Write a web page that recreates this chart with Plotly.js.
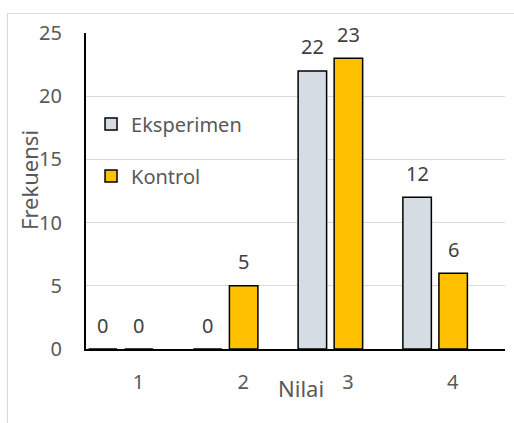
<!DOCTYPE html>
<html><head><meta charset="utf-8">
<script src="https://cdn.plot.ly/plotly-3.0.1.min.js"></script>
<style>
html,body{margin:0;padding:0;background:#fff;overflow:hidden;}
#frame{position:absolute;left:7px;top:13px;width:507px;height:410px;box-sizing:border-box;border-left:1px solid #d9d9d9;border-top:1px solid #d9d9d9;}
#chart{position:absolute;left:0;top:0;width:514px;height:423px;}
</style></head><body>
<div id="frame"></div><div id="chart"></div>
<script>
const categories = ['1', '2', '3', '4'];
const eksperimen = [0, 0, 22, 12];
const kontrol = [0, 5, 23, 6];
const seriesNames = ['Eksperimen', 'Kontrol'];
const yTicks = [0, 5, 10, 15, 20, 25];
const xTitle = 'Nilai';
const yTitle = 'Frekuensi';

const FONT = 'Noto Sans, Liberation Sans, sans-serif';
const barWidth = 0.272;
const barOffsets = [-0.475, -0.131];
const colors = ['#d6dce4', '#ffc000'];
const margin = {l: 86, r: 9, t: 33, b: 74};
const catPx = (514 - margin.l - margin.r) / categories.length;

const seriesValues = [eksperimen, kontrol];
const traces = seriesValues.map((vals, i) => ({
  type: 'bar',
  name: seriesNames[i],
  x: categories,
  y: vals,
  width: barWidth,
  offset: barOffsets[i],
  legendgroup: 'g' + i,
  marker: {color: colors[i], line: {color: '#000000', width: 1.5}},
  hoverinfo: 'x+y+name'
}));

const annotations = [];
seriesValues.forEach((vals, i) => {
  vals.forEach((v, j) => {
    annotations.push({
      x: j, y: v, xref: 'x', yref: 'y',
      text: String(v), showarrow: false,
      xanchor: 'center', yanchor: 'middle',
      xshift: (barOffsets[i] + barWidth / 2) * catPx,
      yshift: 24,
      font: {family: FONT, size: 20, color: '#404040'}
    });
  });
});
// axis titles placed as in the reference (Excel layout)
annotations.push({
  text: xTitle, xref: 'paper', yref: 'paper', x: 0.512, y: -0.123,
  xanchor: 'center', yanchor: 'middle', showarrow: false,
  font: {family: FONT, size: 22, color: '#595959'}
});
annotations.push({
  text: yTitle, xref: 'paper', yref: 'paper', x: -0.136, y: 0.535,
  xanchor: 'center', yanchor: 'middle', showarrow: false, textangle: -90,
  font: {family: FONT, size: 22, color: '#595959'}
});

const layout = {
  width: 514, height: 423,
  margin: margin,
  paper_bgcolor: 'rgba(0,0,0,0)',
  plot_bgcolor: 'rgba(0,0,0,0)',
  barmode: 'overlay',
  showlegend: true,
  legend: {
    x: 0.012, y: 0.774, xanchor: 'left', yanchor: 'top',
    bgcolor: 'rgba(0,0,0,0)',
    font: {family: FONT, size: 20, color: '#595959'},
    traceorder: 'grouped', tracegroupgap: 23
  },
  xaxis: {
    type: 'category', range: [-0.5, categories.length - 0.5],
    showline: true, linecolor: '#000000', linewidth: 2,
    showgrid: false, zeroline: false,
    ticks: '', ticklabelstandoff: 14,
    tickfont: {family: FONT, size: 20, color: '#595959'}
  },
  yaxis: {
    range: [0, 25], tickvals: yTicks,
    showline: true, linecolor: '#000000', linewidth: 2,
    showgrid: true, gridcolor: '#d9d9d9', gridwidth: 1.3,
    zeroline: false,
    ticks: '', ticklabelstandoff: 18,
    tickfont: {family: FONT, size: 20, color: '#595959'}
  },
  annotations: annotations,
  font: {family: FONT}
};

Plotly.newPlot('chart', traces, layout, {displayModeBar: false, staticPlot: true});
</script>
</body></html>
